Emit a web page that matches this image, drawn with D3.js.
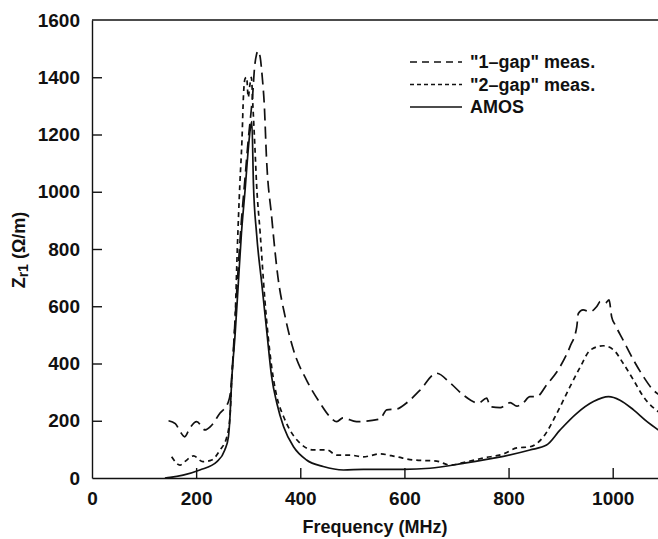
<!DOCTYPE html>
<html>
<head>
<meta charset="utf-8">
<script src="https://cdn.jsdelivr.net/npm/d3@7"></script>
<style>
  body { margin: 0; background: #fff; }
  text { font-family: "Liberation Sans", Arial, sans-serif; fill: #111; }
</style>
</head>
<body>
<div id="chart"></div>
<script>
// data (MHz, ohm/m)
const gap1Freq = [147,160,170,178,188,201,217,227,246,261,266,270,275,281,287,294,300,305,309,312,316,319,323,327,331,335,345,357,371,387,412,438,457,470,482,508,553,566,585,604,630,662,688,713,742,758,765,784,803,816,828,841,854,873,899,918,931,934,943,957,969,976,986,993,998,1005,1020,1040,1059,1078,1090];
const gap1Z    = [200,190,160,144,175,197,168,179,227,262,300,400,560,740,900,1050,1180,1270,1350,1430,1480,1492,1470,1400,1300,1122,913,703,563,447,342,262,214,197,210,197,206,238,241,262,307,366,332,290,262,279,249,246,263,251,262,284,284,325,389,459,528,575,587,581,598,616,611,622,563,534,482,412,354,307,290];

const gap2Freq = [153,169,178,195,213,230,246,259,265,268,275,279,284,288,291,294,297,300,303,306,309,313,316,323,332,345,355,368,380,400,425,451,470,496,521,553,585,617,662,688,713,752,790,816,841,867,893,918,938,957,982,1002,1020,1040,1059,1090];
const gap2Z    = [74,45,57,77,57,63,98,144,214,331,563,796,1029,1180,1340,1395,1400,1330,1370,1400,1300,1150,1029,855,622,389,284,214,168,121,98,98,80,80,74,84,74,63,59,45,54,70,84,105,109,144,227,319,389,447,462,447,401,342,284,228];

const amosFreq = [140,150,175,207,240,255,262,265,268,275,281,287,294,300,304,307,310,316,326,336,345,355,368,387,412,444,483,521,598,649,713,777,841,873,899,931,963,992,1014,1040,1066,1090];
const amosZ    = [0,2,10,28,57,98,144,214,331,506,680,855,1006,1146,1220,1245,1029,855,680,506,354,261,179,109,63,40,28,30,30,34,51,71,98,115,168,226,267,284,272,238,197,165];

const seriesNames = ['"1\u2013gap" meas.', '"2\u2013gap" meas.', "AMOS"];
const xTicks = [0, 200, 400, 600, 800, 1000];
const yTicks = [0, 200, 400, 600, 800, 1000, 1200, 1400, 1600];

const W = 658, H = 539;
const margin = {top: 20, right: 0, bottom: 61, left: 92};
const font = "Liberation Sans, Arial, sans-serif";

const svg = d3.select("#chart").append("svg")
    .attr("width", W)
    .attr("height", H);

const x = d3.scaleLinear().domain([0, 1087]).range([margin.left, W - margin.right]);
const y = d3.scaleLinear().domain([0, 1600]).range([H - margin.bottom, margin.top]);

// frame: left, bottom and top lines (no right edge)
svg.append("g")
    .attr("transform", "translate(0," + y(0) + ")")
    .call(d3.axisBottom(x).tickValues(xTicks).tickFormat(d3.format("d"))
      .tickSizeInner(-10).tickSizeOuter(0).tickPadding(14))
    .call(g => g.selectAll("text").attr("font-size", 19).attr("font-weight", "bold").attr("font-family", font))
    .call(g => g.selectAll("line,path").attr("stroke", "#111").attr("stroke-width", 1.4))
    .call(g => g.selectAll(".tick").filter(d => d === 0).select("line").remove());

svg.append("g")
    .attr("transform", "translate(" + x(0) + ",0)")
    .call(d3.axisLeft(y).tickValues(yTicks).tickFormat(d3.format("d"))
      .tickSizeInner(-10).tickSizeOuter(0).tickPadding(12))
    .call(g => g.selectAll("text").attr("font-size", 19).attr("font-weight", "bold").attr("font-family", font))
    .call(g => g.selectAll("line,path").attr("stroke", "#111").attr("stroke-width", 1.4))
    .call(g => g.selectAll(".tick").filter(d => d === 0 || d === 1600).select("line").remove());

svg.append("line")
    .attr("x1", x(0)).attr("x2", W)
    .attr("y1", y(1600)).attr("y2", y(1600))
    .attr("stroke", "#111").attr("stroke-width", 1.4);

// curves
const line = d3.line().x(d => x(d[0])).y(d => y(d[1])).curve(d3.curveMonotoneX);
const styles = [
  {dash: "12,6", data: d3.zip(gap1Freq, gap1Z)},
  {dash: "5,4", data: d3.zip(gap2Freq, gap2Z)},
  {dash: null, data: d3.zip(amosFreq, amosZ)}
];

const plot = svg.append("g");
plot.append("clipPath").attr("id", "clip").append("rect")
    .attr("x", x(0)).attr("y", y(1600)).attr("width", W - x(0)).attr("height", y(0) - y(1600));

styles.forEach(s => {
  plot.append("path")
      .attr("clip-path", "url(#clip)")
      .attr("d", line(s.data))
      .attr("fill", "none")
      .attr("stroke", "#111")
      .attr("stroke-width", 1.7)
      .attr("stroke-dasharray", s.dash);
});

// legend
const legend = svg.selectAll(".legend-entry").data(seriesNames)
  .enter().append("g")
    .attr("class", "legend-entry")
    .attr("transform", (d, i) => "translate(410," + (68 + i * 22.5) + ")");

legend.append("line")
    .attr("x1", 0).attr("x2", 52)
    .attr("y1", -6).attr("y2", -6)
    .attr("stroke", "#111").attr("stroke-width", 1.6)
    .attr("stroke-dasharray", (d, i) => i === 0 ? "7,5" : i === 1 ? "4,3" : null);

legend.append("text")
    .attr("x", 60)
    .attr("font-size", 18)
    .attr("font-weight", "bold")
    .text(d => d);

// axis titles
svg.append("text")
    .attr("x", 375).attr("y", 533)
    .attr("text-anchor", "middle")
    .attr("font-size", 18)
    .attr("font-weight", "bold")
    .text("Frequency (MHz)");

const yl = svg.append("text")
    .attr("transform", "translate(25,250) rotate(-90)")
    .attr("text-anchor", "middle")
    .attr("font-size", 18)
    .attr("font-weight", "bold");
yl.append("tspan").text("Z");
yl.append("tspan").attr("font-size", 14).attr("dy", 3).text("r1");
yl.append("tspan").attr("dy", -3).text(" (\u03A9/m)");
</script>
</body>
</html>
